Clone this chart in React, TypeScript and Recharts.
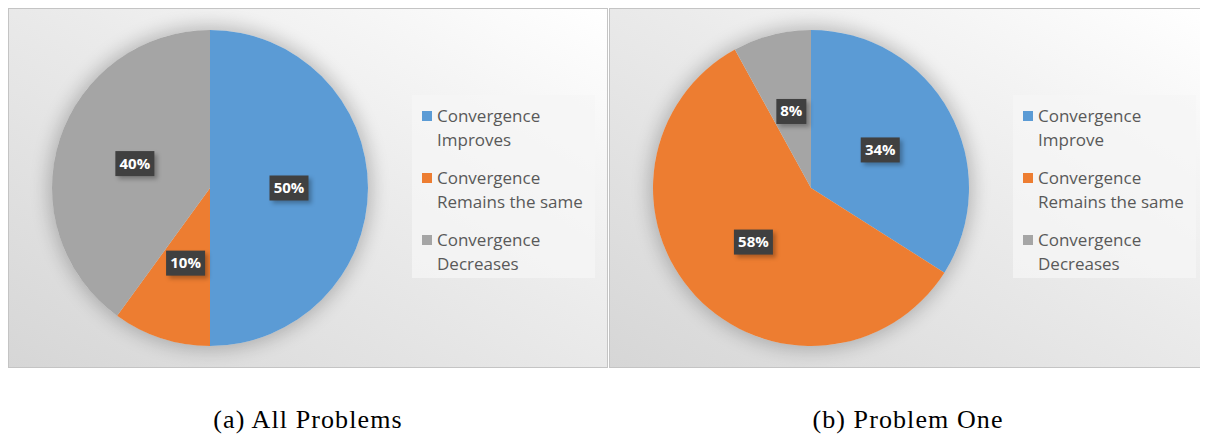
import { Cell, Pie, PieChart } from "recharts";

const categoriesA = ["Convergence Improves", "Convergence Remains the same", "Convergence Decreases"];
const categoriesB = ["Convergence Improve", "Convergence Remains the same", "Convergence Decreases"];
const valuesA = [50, 10, 40];
const valuesB = [34, 58, 8];
const captions = ["(a) All Problems", "(b) Problem One"];
const colors = ["#5B9BD5", "#ED7D31", "#A5A5A5"];

const RADIAN = Math.PI / 180;
const PANEL_H = 360;
const CX = 202;
const CY = 180;
const R = 158;

function renderLabel(props: any) {
  const { cx, cy, midAngle, outerRadius, value } = props;
  const r = outerRadius * 0.5;
  const x = cx + r * Math.cos(-midAngle * RADIAN);
  const y = cy + r * Math.sin(-midAngle * RADIAN);
  const text = `${value}%`;
  const w = 9 * text.length + 12;
  const h = 25;
  return (
    <g>
      <rect x={x - w / 2 + 3} y={y - h / 2 + 3} width={w} height={h} fill="rgba(0,0,0,0.28)" style={{ filter: "blur(2px)" }} />
      <rect x={x - w / 2} y={y - h / 2} width={w} height={h} fill="#404040" />
      <text
        x={x}
        y={y + 1}
        fill="#ffffff"
        textAnchor="middle"
        dominantBaseline="middle"
        fontFamily="Open Sans"
        fontWeight={700}
        fontSize={15}
      >
        {text}
      </text>
    </g>
  );
}

function Panel({
  left,
  width,
  names,
  values,
}: {
  left: number;
  width: number;
  names: string[];
  values: number[];
}) {
  const data = names.map((name, i) => ({ name, value: values[i] }));
  return (
    <div
      style={{
        position: "absolute",
        left,
        top: 0,
        width,
        height: PANEL_H,
        boxSizing: "border-box",
        border: "1px solid #c4c4c4",
        background: "linear-gradient(to bottom left, #ffffff 0%, #ebebeb 45%, #d6d6d6 100%)",
        overflow: "hidden",
      }}
    >
      <div
        style={{
          position: "absolute",
          left: CX - R - 1,
          top: CY - R - 1,
          width: 2 * R,
          height: 2 * R,
          borderRadius: "50%",
          boxShadow: "0 0 18px 4px rgba(0,0,0,0.22)",
        }}
      />
      <div style={{ position: "absolute", left: -1, top: -1 }}>
        <PieChart width={width} height={PANEL_H} margin={{ top: 0, right: 0, bottom: 0, left: 0 }}>
          <Pie
            data={data}
            dataKey="value"
            cx={CX}
            cy={CY}
            outerRadius={R}
            startAngle={90}
            endAngle={-270}
            stroke="none"
            label={renderLabel}
            labelLine={false}
            isAnimationActive={false}
          >
            {data.map((d, i) => (
              <Cell key={d.name} fill={colors[i]} />
            ))}
          </Pie>
        </PieChart>
      </div>
      <div
        style={{
          position: "absolute",
          left: 403,
          top: 86,
          width: 183,
          height: 183,
          background: "rgba(245,245,245,0.75)",
          fontFamily: "Open Sans",
          fontSize: 17,
          color: "#595959",
          boxSizing: "border-box",
          paddingTop: 9,
          whiteSpace: "nowrap",
        }}
      >
        {data.map((d, i) => {
          const [first, ...rest] = d.name.split(" ");
          return (
            <div key={d.name} style={{ position: "relative", height: 62, paddingLeft: 25, lineHeight: "24px" }}>
              <div
                style={{
                  position: "absolute",
                  left: 10,
                  top: 7,
                  width: 10,
                  height: 10,
                  background: colors[i],
                }}
              />
              <div>{first}</div>
              <div>{rest.join(" ")}</div>
            </div>
          );
        })}
      </div>
    </div>
  );
}

export default function App() {
  return (
    <div style={{ position: "relative", width: 1200, height: 430, overflow: "hidden" }}>
      <Panel left={0} width={600} names={categoriesA} values={valuesA} />
      <Panel left={601} width={598} names={categoriesB} values={valuesB} />
      {captions.map((c, i) => (
        <div
          key={c}
          style={{
            position: "absolute",
            left: i === 0 ? 0 : 601,
            width: i === 0 ? 600 : 598,
            top: 397,
            textAlign: "center",
            fontFamily: "'Liberation Serif', serif",
            fontSize: 26,
            lineHeight: "30px",
            letterSpacing: 1.1,
            color: "#000",
            whiteSpace: "nowrap",
          }}
        >
          {c}
        </div>
      ))}
    </div>
  );
}
